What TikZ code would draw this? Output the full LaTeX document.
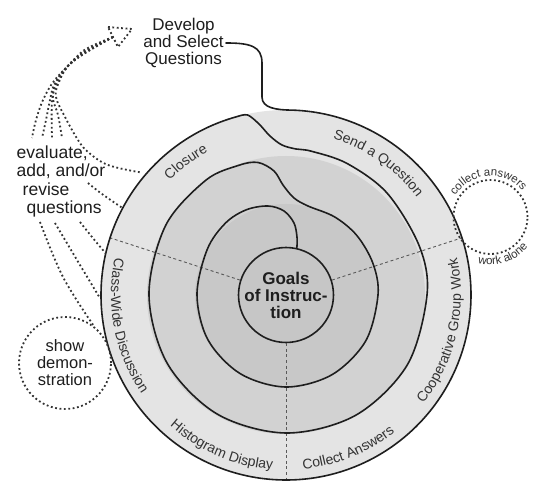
\documentclass[tikz,border=0pt]{standalone}
\usepackage{fontspec}
\setmainfont{Liberation Sans}
\usetikzlibrary{decorations.text}
\definecolor{ringA}{HTML}{E4E4E4}
\definecolor{ringB}{HTML}{D2D2D2}
\definecolor{ringC}{HTML}{C8C8C8}
\definecolor{coreC}{HTML}{C6C6C6}
\definecolor{ink}{HTML}{1E1E1E}
\definecolor{labelink}{HTML}{333333}
\newcommand{\ringfont}{\fontsize{14pt}{14pt}\selectfont}
\newcommand{\smallringfont}{\fontsize{11.5pt}{11.5pt}\selectfont}
\begin{document}
\begin{tikzpicture}[x=1pt,y=1pt,
  spiral/.style={line width=1.6pt, draw=ink, line cap=round, line join=round},
  radial/.style={line width=0.9pt, draw=black!65, dash pattern=on 3pt off 2.6pt},
  fb/.style={line width=1.8pt, draw=black!80, dash pattern=on 1.8pt off 2.6pt},
  maintext/.style={align=center, text=ink, inner sep=2pt},
  goalsnode/.style={circle, minimum size=94pt, inner sep=0pt, fill=coreC, draw=ink, line width=1.6pt,
     font=\bfseries\fontsize{17pt}{17pt}\selectfont, align=center, text=ink},
  ringlabel/.style={decorate, decoration={text along path, text color=labelink, text align=center, text={|\ringfont|#1}}},
  smalllabel/.style={decorate, decoration={text along path, text color=labelink, text align=center, text={|\smallringfont|#1}}}
]
\fill[white] (-286,-192) rectangle (254,295);
\useasboundingbox (-286,-192) rectangle (254,295);

% shading
\fill[ringA] (0,0) circle[radius=185pt];
\fill[ringB] (0,0) circle[radius=139pt];
\fill[ringC] (0,0) circle[radius=91pt];

% centre
\node[goalsnode] (goals) at (0,0) {Goals\\of Instruc-\\tion};

% radial dashed dividers
\coordinate (e1) at (162:185pt);
\coordinate (e2) at (18:185pt);
\coordinate (e3) at (270:185pt);
\draw[radial] (goals.162) -- (e1);
\draw[radial] (goals.18) -- (e2);
\draw[radial] (goals.270) -- (e3);

% develop node
\node[maintext, font=\fontsize{17pt}{16.7pt}\selectfont] (dev) at (-102.5,252) {Develop\\and Select\\Questions};

% spiral
\draw[spiral] (dev.east) .. controls (-36,252) and (-24,249) .. (-24,232) -- (-24,198)
  .. controls (-24,187) and (-10,185) .. (88:185pt)
  arc[start angle=88, end angle=-255, radius=185pt]
  -- plot[smooth, tension=0.55] coordinates {(105:185pt) (102:184pt) (-27,171) (-16,159) (-4,150) (10,146)
     (80:146pt) (65:145pt) (45:143.5pt) (20:142pt) (0:141pt) (-30:140pt) (-60:139pt) (-90:138pt)
     (-120:137.5pt) (-150:137pt) (-180:137pt) (-210:139pt) (125:140pt) (110:138pt) (-28,132.5)
     (-12,124) (-3,110) (8,97) (22,89) (58:92pt) (40:92.5pt) (20:92.5pt) (0:92pt) (-30:92pt)
     (-60:92pt) (-90:92pt) (-120:91pt) (-150:90pt) (-180:89pt) (-210:91pt) (130:94pt) (115:94pt)
     (-18,89) (-2,84) (8,72) (11,58) (goals.77)};

% ring labels
\path[ringlabel={Closure}] (157:163pt) arc[start angle=157, end angle=97, radius=163pt];
\path[ringlabel={Send a Question}] (95:163pt) arc[start angle=95, end angle=15, radius=163pt];
\path[ringlabel={Cooperative Group Work}] (-58:175pt) arc[start angle=-58, end angle=32, radius=175pt];
\path[ringlabel={Collect Answers}] (-100:175pt) arc[start angle=-100, end angle=-36, radius=175pt];
\path[ringlabel={Histogram Display}] (-152:175pt) arc[start angle=-152, end angle=-74, radius=175pt];
\path[ringlabel={Class-Wide Discussion}] (148:175pt) arc[start angle=148, end angle=234, radius=175pt];

% right dotted circle
\node[circle, fb, minimum size=74pt, inner sep=0pt] (rc) at (204.5,78) {};
\path[smalllabel={collect answers}] ([shift={(165:41pt)}]rc.center) arc[start angle=165, end angle=23, radius=41pt];
\path[smalllabel={work alone}] ([shift={(-125:48pt)}]rc.center) arc[start angle=-125, end angle=-19, radius=48pt];

% left dotted circle
\node[circle, fb, minimum size=92pt, inner sep=0pt, align=center, text=ink,
      font=\fontsize{16.5pt}{17pt}\selectfont] (demo) at (-221,-68) {show\\demon-\\stration};

% evaluate text
\node[maintext, align=left, inner sep=0pt, font=\fontsize{17.5pt}{18.6pt}\selectfont] (eval) at (-225,113.5)
  {evaluate,\\add, and/or\\\hspace*{6pt}revise\\\hspace*{10pt}questions};

% feedback arrow head
\coordinate (tA) at (-178,268);
\coordinate (tB) at (-154,266);
\coordinate (tC) at (-168,248);
\coordinate (m) at (-173,258);
\draw[fb] (tA) -- (tB) -- (tC) -- cycle;

% feedback lines
\coordinate (f1) at (140:191pt);
\coordinate (f2) at (152:185pt);
\coordinate (f3) at (167:185pt);
\coordinate (f4) at (181:186pt);
\coordinate (b2) at (-198,112);
\coordinate (b3) at (-206,73);
\coordinate (b4) at (-231,72);
\coordinate (b5) at (-246,73);
\draw[fb] plot[smooth, tension=0.6] coordinates {(m) (-202,243) (-218,229) (-227,213) (-230,198) (-221,178) (-208,155) (-198,143) (-178,130) (f1)};
\draw[fb] plot[smooth, tension=0.6] coordinates {(m) (-204,240) (-221,226) (-231,210) (-233,196) (-228,180) (-224,157)};
\draw[fb] plot[smooth, tension=0.6] coordinates {(m) (-202,243) (-218,229) (-229,211) (-234,194) (-234,157)};
\draw[fb] plot[smooth, tension=0.6] coordinates {(m) (-204,240) (-221,226) (-232,210) (-236,195) (-240,175) (-244,157)};
\draw[fb] plot[smooth, tension=0.6] coordinates {(m) (-200,246) (-214,233) (-232,214) (-243,195) (-250,175) (-254,157)};
\draw[fb] plot[smooth, tension=0.6] coordinates {(b2) (-184,101) (f2)};
\draw[fb] plot[smooth, tension=0.6] coordinates {(b3) (-194,58) (f3)};
\draw[fb] plot[smooth, tension=0.6] coordinates {(b4) (-209,35) (f4)};
\draw[fb] plot[smooth, tension=0.6] coordinates {(b5) (-223,18) (demo.52)};
\end{tikzpicture}
\end{document}
